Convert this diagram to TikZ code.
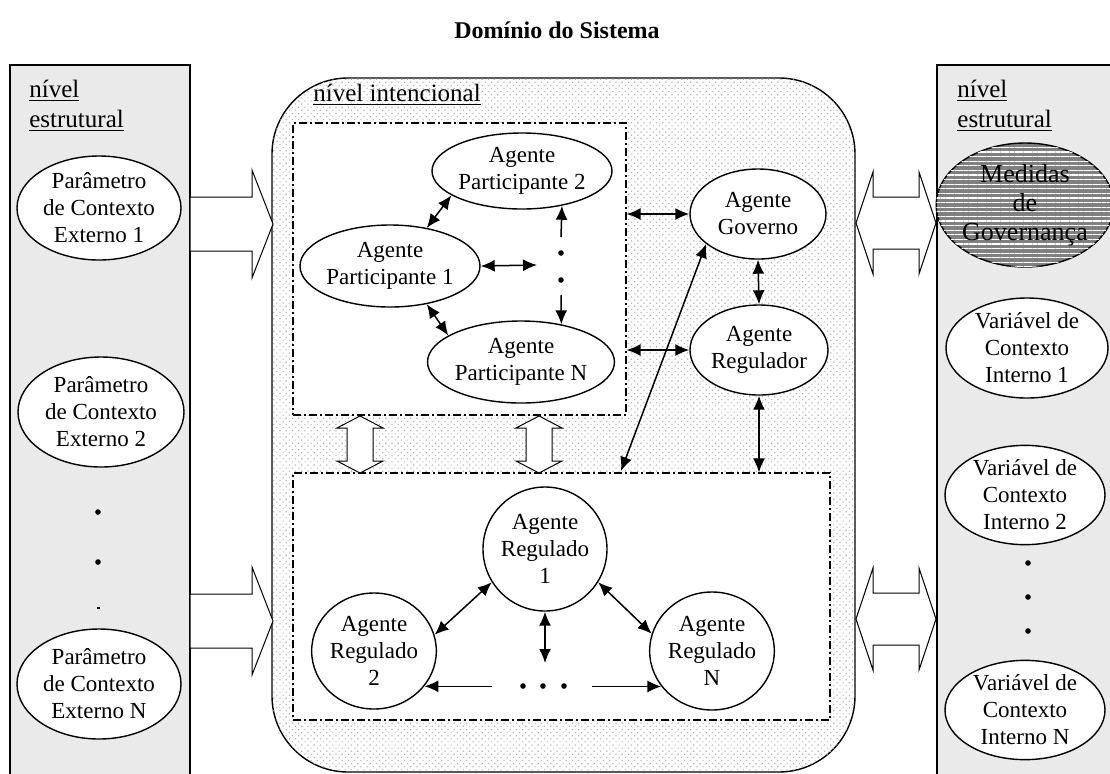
\documentclass[tikz,border=0pt]{standalone}
\usepackage{fontspec}
\setmainfont{Liberation Serif}
\usetikzlibrary{arrows.meta,shapes.geometric,patterns,patterns.meta}
\definecolor{panelgray}{HTML}{EAEAEA}
\definecolor{hatchgray}{HTML}{808080}
\definecolor{dotgray}{HTML}{B5B5B5}
\begin{document}
\begin{tikzpicture}[x=0.5pt,y=-0.5pt,
  txt/.style={font=\fontsize{11.5}{13.5}\selectfont, align=center},
  lbl/.style={font=\fontsize{12.5}{15}\selectfont, align=left, inner sep=0pt, anchor=north west},
  oval/.style={ellipse, draw, line width=0.7pt, fill=white, inner sep=0pt, txt},
  panel/.style={draw, line width=0.6pt, fill=panelgray},
  groupbox/.style={draw, line width=0.6pt, fill=white, inner sep=0pt,
    dash pattern=on 4pt off 1.6pt on 0.8pt off 1.6pt},
  link/.style={line width=0.75pt, {Latex[length=7pt,width=6pt]}-{Latex[length=7pt,width=6pt]}},
  link1/.style={line width=0.75pt, -{Latex[length=7pt,width=6pt]}},
  blockarrow/.style={draw, line width=0.5pt, fill=white},
  dot/.style={circle, fill, inner sep=0pt, minimum size=2.8pt},
  pics/bigright/.style={code={
    \draw[blockarrow] (0,-27) -- (62,-27) -- (62,-54) -- (83,0) -- (62,54) -- (62,27) -- (0,27) -- cycle;}},
  pics/bigboth/.style={code={
    \draw[blockarrow] (0,0) -- (17,-51) -- (17,-26) -- (63,-26) -- (63,-51) -- (80,0)
      -- (63,51) -- (63,26) -- (17,26) -- (17,51) -- cycle;}},
  pics/bigvert/.style={code={
    \draw[blockarrow] (0,0) -- (23,12) -- (13,12) -- (13,45) -- (23,45) -- (0,57)
      -- (-23,45) -- (-13,45) -- (-13,12) -- (-23,12) -- cycle;}},
]
\useasboundingbox (0,0) rectangle (1110,773);
\clip (0,0) rectangle (1110,773);

% title
\node[font=\bfseries\fontsize{12}{14}\selectfont] (title) at (557,30) {Domínio do Sistema};

% structural side panels
\draw[panel] (10,65) rectangle (190,790);
\draw[panel] (937,65) rectangle (1130,790);
\node[lbl] (lblL) at (29,80) {\underline{nível}\\\underline{estrutural}};
\node[lbl] (lblR) at (957,80) {\underline{nível}\\\underline{estrutural}};

% intentional level
\node[draw, line width=0.7pt, rounded corners=38pt, fill=white,
  postaction={pattern={Dots[distance=2.2pt,radius=0.42pt,angle=45]}, pattern color=dotgray},
  minimum width=291.5pt, minimum height=347pt, inner sep=0pt] (core) at (563.5,425) {};
\node[lbl] (lblC) at (313,84) {\underline{nível intencional}};

\node[groupbox, minimum width=166.5pt, minimum height=146pt] (up) at (459.5,269) {};
\node[groupbox, minimum width=268.5pt, minimum height=123.5pt] (low) at (561.5,596.5) {};

% block arrows
\pic at (190,224) {bigright};
\pic at (190,621) {bigright};
\pic at (856,223) {bigboth};
\pic at (856,619) {bigboth};
\pic at (360,416) {bigvert};
\pic at (539,416) {bigvert};

% external context parameters
\node[oval, minimum width=82pt, minimum height=52pt] (E1) at (99,208) {Parâmetro\\de Contexto\\Externo 1};
\node[oval, minimum width=83pt, minimum height=55pt] (E2) at (101,412) {Parâmetro\\de Contexto\\Externo 2};
\node[oval, minimum width=82pt, minimum height=55pt] (EN) at (99,684) {Parâmetro\\de Contexto\\Externo N};
\node[dot] (el1) at (98,512) {};
\node[dot] (el2) at (98,562) {};
\draw[line width=0.6pt] (96.5,608) -- (99.5,608);

% governance measures and internal context variables
\node[ellipse, draw, line width=0.7pt, inner sep=0pt, fill=hatchgray,
  postaction={pattern={Lines[angle=0,distance=2.3pt,line width=0.55pt]}, pattern color=white},
  minimum width=83pt, minimum height=62pt, align=center,
  font=\fontsize{13}{14.5}\selectfont] (Med) at (1025,205) {Medidas\\de\\Governança};
\node[oval, minimum width=81pt, minimum height=50pt] (V1) at (1027,348) {Variável de\\Contexto\\Interno 1};
\node[oval, minimum width=80pt, minimum height=48pt] (V2) at (1025,495) {Variável de\\Contexto\\Interno 2};
\node[dot] (vd1) at (1028,563) {};
\node[dot] (vd2) at (1028,597) {};
\node[dot] (vd3) at (1028,631) {};
\node[oval, minimum width=80pt, minimum height=48pt] (VN) at (1025,710) {Variável de\\Contexto\\Interno N};

% participant agents
\node[oval, minimum width=90pt, minimum height=38pt] (P2) at (522,171) {Agente\\Participante 2};
\node[oval, minimum width=90pt, minimum height=41pt] (P1) at (390,266) {Agente\\Participante 1};
\node[oval, minimum width=91pt, minimum height=41pt] (PN) at (521,362) {Agente\\Participante N};
\node[dot] (pd1) at (561,253) {};
\node[dot] (pd2) at (561,280) {};
\coordinate (pa) at (537,265);
\coordinate (pu) at (561,237);
\coordinate (pl) at (561,295);

% government and regulator
\node[oval, minimum width=68pt, minimum height=45pt] (Gov) at (758,214) {Agente\\Governo};
\node[oval, minimum width=69pt, minimum height=45pt] (Reg) at (759,350) {Agente\\Regulador};
\coordinate (gl) at (621,471);

% regulated agents
\node[oval, circle, minimum size=62pt] (R1) at (545,549) {Agente\\Regulado\\1};
\node[oval, minimum width=61pt, minimum height=58pt] (R2) at (374,651) {Agente\\Regulado\\2};
\node[oval, minimum width=61pt, minimum height=59pt] (RN) at (712,651) {Agente\\Regulado\\N};
\node[dot] (rd1) at (523,686) {};
\node[dot] (rd2) at (543,686) {};
\node[dot] (rd3) at (564,686) {};
\coordinate (rv) at (545,663);
\coordinate (rl) at (492,686);
\coordinate (rr) at (592,686);

% connectors
\draw[link] (P1.46) -- (P2.199);
\draw[link] (P1.314) -- (PN.160);
\draw[link] (P1.east) -- (pa);
\draw[link1] (pu) -- (P2.319);
\draw[link1] (pl) -- (PN.43);
\draw[link] (Gov.west -| up.east) -- (Gov.west);
\draw[link] (Reg.west -| up.east) -- (Reg.west);
\draw[link] (Gov.south) -- (Reg.north);
\draw[link] (Reg.south) -- (Reg.south |- low.north);
\draw[link] (Gov.210) -- (gl);
\draw[link] (R1.212) -- (R2.15);
\draw[link] (R1.328) -- (RN.164);
\draw[link] (R1.south) -- (rv);
\draw[link1] (R2.325 -| rl) -- (R2.325);
\draw[link1] (RN.215 -| rr) -- (RN.215);
\end{tikzpicture}
\end{document}
